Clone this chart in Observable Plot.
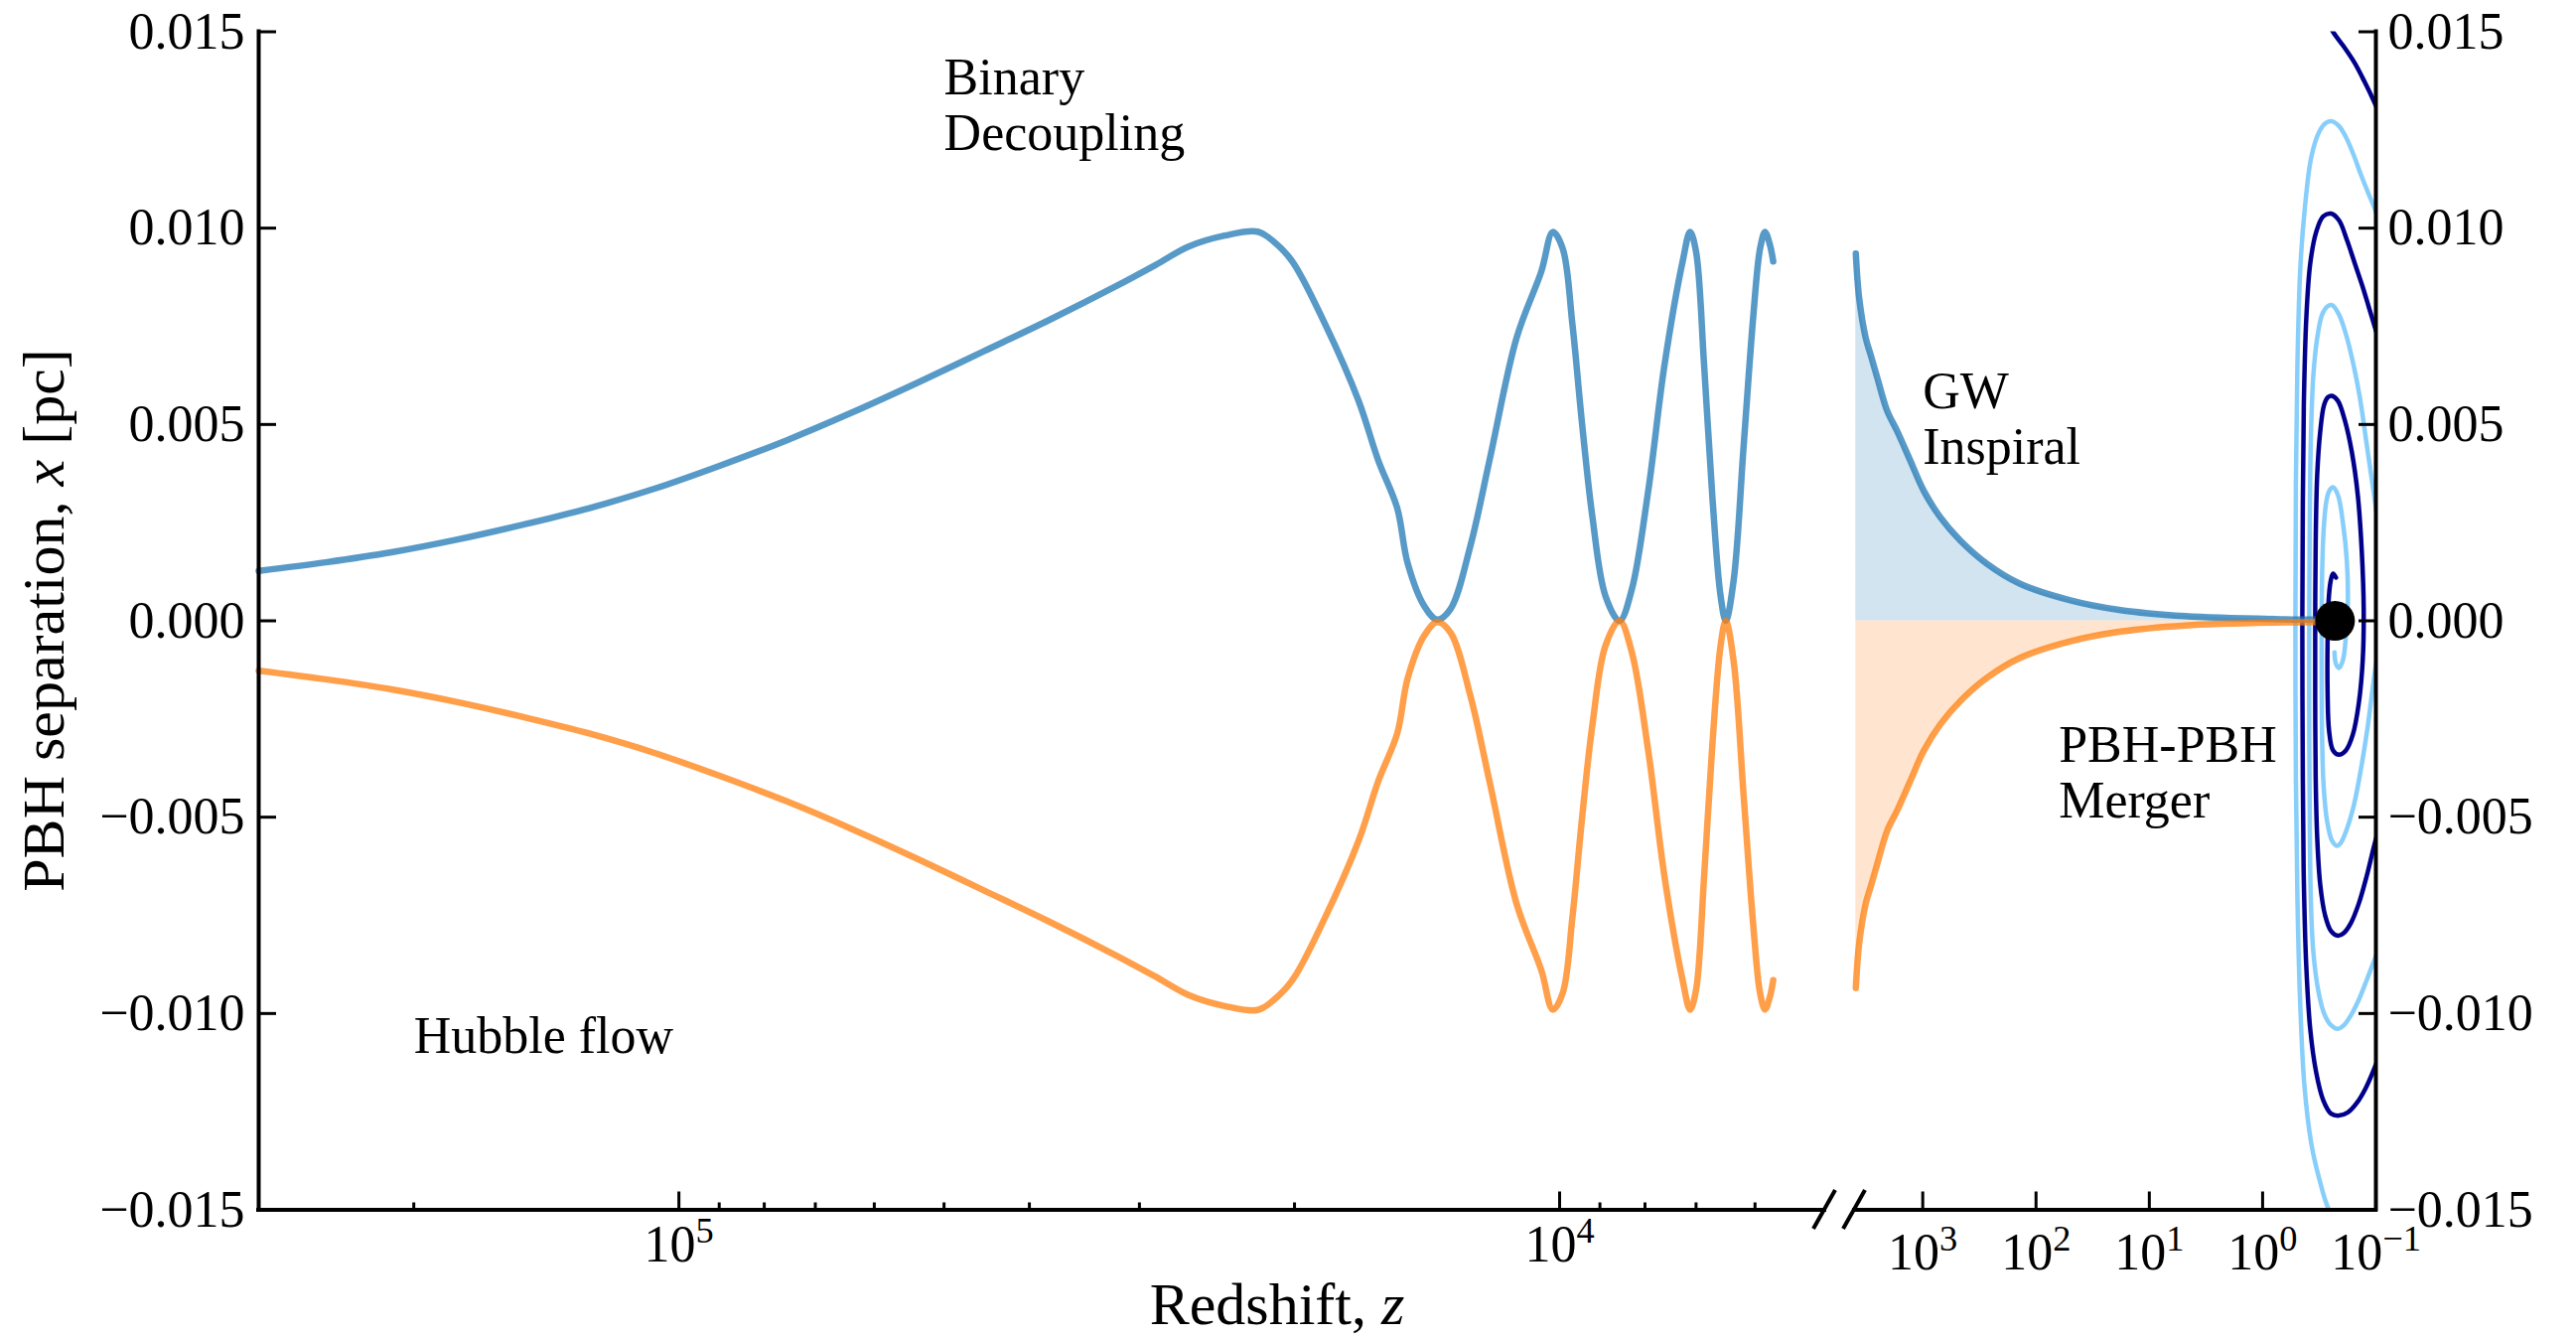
<!DOCTYPE html>
<html><head><meta charset="utf-8">
<script src="https://cdn.jsdelivr.net/npm/d3@7"></script>
<script src="https://cdn.jsdelivr.net/npm/@observablehq/plot@0.6"></script>
<style>
html,body{margin:0;padding:0;background:#fff;overflow:hidden}
#fig{position:relative;width:2594px;height:1345px}
#fig svg{position:absolute;left:0;top:0}
</style></head><body><div id="fig"></div>
<script>
// ---------- data ----------
const yTicks = [-0.015, -0.010, -0.005, 0, 0.005, 0.010, 0.015];
const leftMajor = [1e5, 1e4];
const leftMinor = [2e5, 9e4, 8e4, 7e4, 6e4, 5e4, 4e4, 3e4, 2e4, 9e3, 8e3, 7e3, 6e3];
const rightMajor = [1e3, 1e2, 1e1, 1e0, 1e-1];

// left panel (Hubble flow -> decoupling -> oscillation)
const leftZ = [3.0e5, 2.518e5, 2.120e5, 1.784e5, 1.502e5, 1.264e5, 1.064e5, 8.96e4, 7.54e4, 6.35e4, 5.35e4, 4.50e4, 3.79e4, 3.19e4, 2.877e4, 2.638e4, 2.400e4, 2.202e4, 2.110e4, 2.011e4, 1.845e4, 1.692e4, 1.607e4, 1.529e4, 1.488e4, 1.425e4, 1.377e4, 1.330e4, 1.263e4, 1.199e4, 1.119e4, 1.049e4, 1.018e4, 9.92e3, 9.67e3, 9.43e3, 9.18e3, 8.87e3, 8.55e3, 8.28e3, 7.93e3, 7.60e3, 7.25e3, 7.11e3, 7.00e3, 6.855e3, 6.708e3, 6.565e3, 6.476e3, 6.343e3, 6.182e3, 6.025e3, 5.921e3, 5.845e3, 5.770e3, 5.721e3];
const blueLeft = [0.00127, 0.00149, 0.001745, 0.00207, 0.00245, 0.00287, 0.00337, 0.00396, 0.00460, 0.00531, 0.00607, 0.00687, 0.00767, 0.00852, 0.00906, 0.00953, 0.00981, 0.00991, 0.00965, 0.00915, 0.00754, 0.00561, 0.00409, 0.00287, 0.00147, 0.00038, 0.00003, 0.00030, 0.00190, 0.00417, 0.00721, 0.00890, 0.00990, 0.00948, 0.00754, 0.00502, 0.00266, 0.00063, 0.0, 0.00080, 0.00333, 0.00653, 0.00915, 0.00990, 0.00940, 0.00653, 0.00316, 0.00063, 0.0, 0.00105, 0.00443, 0.00780, 0.00948, 0.00990, 0.00957, 0.00915];
const orangeLeft = [-0.00127, -0.00149, -0.001745, -0.00207, -0.00245, -0.00287, -0.00337, -0.00396, -0.00460, -0.00531, -0.00607, -0.00687, -0.00767, -0.00852, -0.00906, -0.00953, -0.00981, -0.00991, -0.00965, -0.00915, -0.00754, -0.00561, -0.00409, -0.00287, -0.00147, -0.00038, -0.00003, -0.00030, -0.00190, -0.00417, -0.00721, -0.00890, -0.00990, -0.00948, -0.00754, -0.00502, -0.00266, -0.00063, 0.0, -0.00080, -0.00333, -0.00653, -0.00915, -0.00990, -0.00940, -0.00653, -0.00316, -0.00063, 0.0, -0.00105, -0.00443, -0.00780, -0.00948, -0.00990, -0.00957, -0.00915];

// right panel (GW inspiral)
const rightZ = [3898, 3639, 3186, 2880, 2515, 2056, 1680, 1284, 980, 701, 468, 273, 139.5, 50.8, 18.5, 4.82, 0.641, 0.316];
const blueRight = [0.00935, 0.00821, 0.00720, 0.00677, 0.00618, 0.00534, 0.00483, 0.00407, 0.00331, 0.00264, 0.00205, 0.00146, 0.00095, 0.00053, 0.00028, 0.00012, 0.00004, 0.00003];
const orangeRight = [-0.00935, -0.00821, -0.00720, -0.00677, -0.00618, -0.00534, -0.00483, -0.00407, -0.00331, -0.00264, -0.00205, -0.00146, -0.00095, -0.00053, -0.00028, -0.00012, -0.00004, -0.00003];

// merger spirals (NaN = gap where the curve leaves the panel)
const darkZ = [0.3168, 0.2752, 0.2390, 0.1916, 0.1535, 0.1256, 0.1026, 0.0839, NaN,
  0.0839, 0.1026, 0.1230, 0.1475, 0.1768, 0.2118, 0.2489, 0.2923, 0.3366, 0.3798, 0.4116, 0.4328, 0.4416, 0.4461, 0.4416, 0.4328, 0.4116, 0.3798, 0.3366, 0.2923, 0.2489, 0.2118, 0.1803, 0.1535, 0.1307, 0.1158, 0.1026, 0.0839, NaN,
  0.0839, 0.1026, 0.1206, 0.1416, 0.1664, 0.1916, 0.2162, 0.2489, 0.2808, 0.3105, 0.3299, 0.3400, 0.3434, 0.3434, 0.3400, 0.3299, 0.3105, 0.2865, 0.2643, 0.2439, 0.2162, 0.1878, 0.1631, 0.1445, 0.1334, 0.1281, 0.1307, 0.1416, 0.1599, 0.1840, 0.2118, 0.2390, 0.2590, 0.2670, 0.2670, 0.2616, 0.2513, 0.2390, 0.2250];
const darkV = [0.0156, 0.01535, 0.0150, 0.01462, 0.01420, 0.01372, 0.01319, 0.0126, NaN,
  -0.0107, -0.01138, -0.0119, -0.01228, -0.01252, -0.0126, -0.01255, -0.0122, -0.0115, -0.0104, -0.0088, -0.0066, -0.0040, 0.0, 0.0030, 0.0055, 0.0077, 0.0091, 0.0099, 0.0103, 0.01037, 0.0102, 0.0097, 0.0091, 0.0085, 0.0080, 0.0075, 0.0067, NaN,
  -0.0048, -0.00568, -0.0065, -0.0072, -0.0077, -0.00795, -0.00802, -0.0079, -0.0075, -0.0067, -0.0055, -0.0040, -0.0020, 0.0, 0.0020, 0.0037, 0.0048, 0.0055, 0.0057, 0.00573, 0.0056, 0.0051, 0.0043, 0.0032, 0.0018, 0.0003, -0.0010, -0.0021, -0.0029, -0.0033, -0.00341, -0.0033, -0.0028, -0.0018, -0.0005, 0.0005, 0.0010, 0.0012, 0.0011];
const lightZ = [0.2118, 0.2590, 0.3168, 0.3722, 0.4285, 0.4691, 0.4933, 0.5085, 0.5136, 0.5085, 0.4933, 0.4645, 0.4242, 0.3722, 0.3168, 0.2752, 0.2439, 0.2118, 0.1840, 0.1566, 0.1360, 0.1182, 0.1026, 0.0839, NaN,
  0.0839, 0.1026, 0.1206, 0.1416, 0.1664, 0.1916, 0.2162, 0.2489, 0.2865, 0.3233, 0.3575, 0.3759, 0.3836, 0.3875, 0.3875, 0.3836, 0.3759, 0.3575, 0.3299, 0.2983, 0.2697, 0.2439, 0.2118, 0.1840, 0.1599, 0.1388, 0.1206, 0.1026, 0.0839, NaN,
  0.0839, 0.1026, 0.1182, 0.1360, 0.1566, 0.1803, 0.2035, 0.2205, 0.2439, 0.2697, 0.2894, 0.2983, 0.3013, 0.3013, 0.2983, 0.2894, 0.2752, 0.2590, 0.2390, 0.2162, 0.1955, 0.1803, 0.1768, 0.1840, 0.1955, 0.2118, 0.2250, 0.2319];
const lightV = [-0.0153, -0.0150, -0.0142, -0.0133, -0.0118, -0.0095, -0.0070, -0.0040, 0.0, 0.0035, 0.0065, 0.0090, 0.0105, 0.0118, 0.01245, 0.01268, 0.01272, 0.0126, 0.01232, 0.01185, 0.01137, 0.01093, 0.0105, 0.0098, NaN,
  -0.0080, -0.00862, -0.00915, -0.00965, -0.01005, -0.0103, -0.01039, -0.0103, -0.0100, -0.0094, -0.0084, -0.0070, -0.0050, -0.0025, 0.0, 0.0025, 0.0045, 0.0062, 0.0072, 0.0078, 0.0080, 0.00804, 0.0078, 0.0073, 0.0066, 0.0057, 0.0045, 0.0031, 0.0013, NaN,
  0.0002, -0.00134, -0.0027, -0.0038, -0.0047, -0.0053, -0.00565, -0.00573, -0.0056, -0.0051, -0.0042, -0.0030, -0.0015, 0.0, 0.0012, 0.0023, 0.0030, 0.0033, 0.0034, 0.0032, 0.0025, 0.0015, 0.0005, -0.0004, -0.0010, -0.0012, -0.0011, -0.0008];
const mergerZ = [0.2296];
const mergerV = [0.0];

// annotations
const leftNoteText = ["Binary\nDecoupling", "Hubble flow"];
const leftNoteZ = [5e4, 2e5];
const leftNoteV = [0.012, -0.011];
const rightNoteText = ["GW\nInspiral", "PBH-PBH\nMerger"];
const rightNoteZ = [1e3, 63];
const rightNoteV = [0.004, -0.005];

// ---------- build ----------
const W = 2594, H = 1345;
const FONT = "'Liberation Serif', 'Times New Roman', serif";
const C0 = "#1f77b4", C1 = "#ff7f0e";
const FS = 52;
const TOP = 31.5, BOT = 1217.5;
const curve = "catmull-rom";
const LW = 6.5, SW = 4.5;

const leftTable = leftZ.map((z, i) => ({z, blue: blueLeft[i], orange: orangeLeft[i]}));
const rightTable = rightZ.map((z, i) => ({z, blue: blueRight[i], orange: orangeRight[i]}));
const darkTable = darkZ.map((z, i) => ({z, v: darkV[i]}));
const lightTable = lightZ.map((z, i) => ({z, v: lightV[i]}));
const mergerTable = mergerZ.map((z, i) => ({z, v: mergerV[i]}));
const leftNotes = leftNoteText.map((t, i) => ({t, z: leftNoteZ[i], v: leftNoteV[i]}));
const rightNotes = rightNoteText.map((t, i) => ({t, z: rightNoteZ[i], v: rightNoteV[i]}));

const yFmt = d => (d < 0 ? "\u2212" : "") + Math.abs(d).toFixed(3);
const xFmt = d => { const e = Math.round(Math.log10(d)); return "10^" + (e < 0 ? "\u2212" + (-e) : e); };
const style = {background: "transparent", fontFamily: FONT, fontSize: FS + "px", color: "black"};
const blank = () => "";

const left = Plot.plot({
  width: W, height: H,
  marginLeft: 260, marginRight: W - 1837, marginTop: TOP, marginBottom: H - BOT,
  style,
  x: {type: "log", domain: [3e5, 5e3], axis: null},
  y: {domain: [-0.015, 0.015], axis: null},
  marks: [
    Plot.line(leftTable, {x: "z", y: "blue", stroke: C0, strokeOpacity: 0.75, strokeWidth: LW, curve}),
    Plot.line(leftTable, {x: "z", y: "orange", stroke: C1, strokeOpacity: 0.75, strokeWidth: LW, curve}),
    Plot.ruleX([3e5], {stroke: "black", strokeWidth: 4, strokeLinecap: "square"}),
    Plot.ruleY([-0.015], {stroke: "black", strokeWidth: 4, strokeLinecap: "square"}),
    Plot.axisX(leftMajor, {anchor: "bottom", tickSize: -18, strokeWidth: 3, tickFormat: blank, label: null}),
    Plot.axisX(leftMinor, {anchor: "bottom", tickSize: -7, strokeWidth: 3, tickFormat: blank, label: null}),
    Plot.axisX(leftMajor, {anchor: "bottom", tickSize: 0, tickPadding: 15, tickFormat: xFmt, fontSize: FS, label: null}),
    Plot.axisY(yTicks, {anchor: "left", tickSize: -18, strokeWidth: 3, tickFormat: blank, label: null}),
    Plot.axisY(yTicks, {anchor: "left", tickSize: 0, tickPadding: 14, tickFormat: yFmt, fontSize: FS, label: null}),
    Plot.text(leftNotes, {x: "z", y: "v", text: "t", textAnchor: "start", lineAnchor: "bottom", lineHeight: 1.07, fontSize: FS, fill: "black"})
  ]
});

const right = Plot.plot({
  width: W, height: H,
  marginLeft: 1867, marginRight: W - 2392, marginTop: TOP, marginBottom: H - BOT,
  style,
  x: {type: "log", domain: [4000, 0.1], axis: null},
  y: {domain: [-0.015, 0.015], axis: null},
  marks: [
    Plot.areaY(rightTable, {x: "z", y1: 0, y2: "blue", fill: C0, fillOpacity: 0.2, curve}),
    Plot.areaY(rightTable, {x: "z", y1: 0, y2: "orange", fill: C1, fillOpacity: 0.2, curve}),
    Plot.line(lightTable, {x: "z", y: "v", stroke: "#87cefa", strokeWidth: SW, curve, clip: true}),
    Plot.line(darkTable, {x: "z", y: "v", stroke: "#00008b", strokeWidth: SW, curve, clip: true}),
    Plot.line(rightTable, {x: "z", y: "blue", stroke: C0, strokeOpacity: 0.75, strokeWidth: LW, curve}),
    Plot.line(rightTable, {x: "z", y: "orange", stroke: C1, strokeOpacity: 0.75, strokeWidth: LW, curve}),
    Plot.dot(mergerTable, {x: "z", y: "v", r: 20, fill: "black", stroke: "none"}),
    Plot.ruleX([0.1], {stroke: "black", strokeWidth: 4, strokeLinecap: "square"}),
    Plot.ruleY([-0.015], {stroke: "black", strokeWidth: 4, strokeLinecap: "square"}),
    Plot.axisX(rightMajor, {anchor: "bottom", tickSize: -18, strokeWidth: 3, tickFormat: blank, label: null}),
    Plot.axisX(rightMajor, {anchor: "bottom", tickSize: 0, tickPadding: 23, tickFormat: xFmt, fontSize: FS, label: null}),
    Plot.axisY(yTicks, {anchor: "right", tickSize: -18, strokeWidth: 3, tickFormat: blank, label: null}),
    Plot.axisY(yTicks, {anchor: "right", tickSize: 0, tickPadding: 12, tickFormat: yFmt, fontSize: FS, label: null}),
    Plot.text(rightNotes, {x: "z", y: "v", text: "t", textAnchor: "start", lineAnchor: "bottom", lineHeight: 1.07, fontSize: FS, fill: "black"})
  ]
});

function supers(svg) {
  d3.select(svg).selectAll("text").each(function () {
    const m = /^10\^(.+)$/.exec(this.textContent);
    if (!m) return;
    const s = d3.select(this);
    s.text(null);
    s.append("tspan").text("10");
    s.append("tspan").attr("dy", "-0.52em").attr("font-size", "0.7em").text(m[1]);
  });
}
supers(left); supers(right);

const fig = document.getElementById("fig");
fig.appendChild(left);
fig.appendChild(right);

// overlay: axis titles and axis-break marks
const ys = left.scale("y");
const by = ys.apply(-0.015);
const breaks = [left.scale("x").apply(5e3), right.scale("x").apply(4000)];
const ov = d3.create("svg").attr("width", W).attr("height", H).style("font-family", FONT);
breaks.forEach(bx => {
  ov.append("line").attr("x1", bx - 11).attr("y1", by + 19.5).attr("x2", bx + 11).attr("y2", by - 19.5)
    .attr("stroke", "black").attr("stroke-width", 4);
});
const xl = ov.append("text").attr("x", 1286).attr("y", 1333).attr("text-anchor", "middle").attr("font-size", 60);
xl.append("tspan").text("Redshift, ");
xl.append("tspan").attr("font-style", "italic").text("z");
const yl = ov.append("text").attr("transform", `translate(64,${ys.apply(0)}) rotate(-90)`).attr("text-anchor", "middle").attr("font-size", 60);
yl.append("tspan").text("PBH separation, ");
yl.append("tspan").attr("font-style", "italic").text("x");
yl.append("tspan").text(" [pc]");
fig.appendChild(ov.node());
</script>
</body></html>
